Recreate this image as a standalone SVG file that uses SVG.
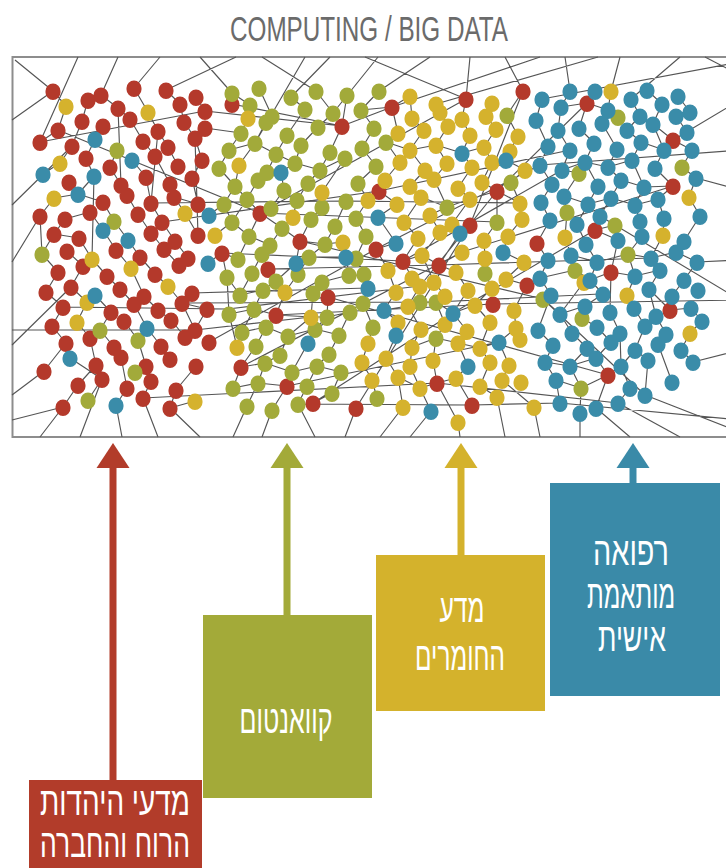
<svg xmlns="http://www.w3.org/2000/svg" width="726" height="868" viewBox="0 0 726 868">
<style>
.ttl{font-family:"Liberation Sans",Arial,sans-serif;font-size:35px;fill:#6b6b6b}
.lbl{fill:#fff;font-family:"Liberation Sans","DejaVu Sans",sans-serif;font-size:40px;text-anchor:middle}
.ln{fill:none;stroke:#555;stroke-width:1.15;stroke-linejoin:round}
.d{fill:none;stroke-width:15;stroke-linecap:round}
.r{stroke:#b4392b}.g{stroke:#a2aa3a}.y{stroke:#d5b22d}.b{stroke:#3a8ca9}
.shaft{stroke-width:7}
</style>
<defs>
<path id="tri" d="M0 0L16.5 25H-16.5Z"/>
</defs>
<rect width="726" height="868" fill="#fff"/>
<text class="ttl" x="369" y="41" text-anchor="middle" textLength="278" lengthAdjust="spacingAndGlyphs">COMPUTING / BIG DATA</text>

<g id="network">
<rect x="12.5" y="57" width="740" height="380" fill="none" stroke="#8d8d8d" stroke-width="2"/>
<path class="ln" d="M15 60 53 91M78 57 40 142M118 57 101 95M160 57 134 88M236 57 166 90M200 57 232 93M305 57 255 143M262 57 316 91M330 57 291 97M378 57 333 113M365 57 466 99M430 57 379 91M470 57 466 99M540 57 392 107M505 57 523 91M565 57 570 91M598 57 436 104M620 57 611 91M680 57 631 99M740 62 542 99M740 100 673 140M740 150 540 165M740 190 696 178M705 57 740 75M12 120 53 91M12 205 72 146M12 262 40 216M12 345 71 287M12 420 63 407M12 395 44 371M40 437 63 407M80 437 102 379M122 437 116 405M158 437 143 398M200 437 170 408M233 437 247 406M262 437 272 410M315 437 298 404M345 437 356 408M380 437 403 407M410 437 431 411M460 437 458 422M505 437 497 397M540 437 534 407M580 437 580 413M630 437 596 408M680 437 618 403M740 420 560 403M740 432 645 395M740 260 697 262M740 300 600 216M740 350 693 362
M40 142 205 111 342 126M58 130 260 213 497 222M12 330 195 330 311 317M151 203 346 201 520 203M63 307 228 309 420 286 497 191 587 103M182 303 436 302 600 294M192 293 368 288M143 398 437 383 618 403M298 404 472 405 560 403M313 403 453 313 595 230M356 408 470 225 523 91M276 315 493 304 740 300M222 253 403 261 562 170M268 269 439 265 651 258M162 222 379 191 570 150M209 342 376 249 540 165M287 386 499 342M241 367 462 252 673 186M328 297 608 375M260 213 466 99M300 241 543 299 645 395M232 104 342 126 392 107
M53 91 66 106 58 130 40 142M88 100 82 121 72 146 60 163 43 174M101 95 118 108 130 119 143 141 155 156 170 184M134 88 148 112 158 131 168 147 178 166M166 90 180 104 184 122 195 138 202 160 192 178M196 97 205 111M103 126 95 139 86 158 94 176 78 194 54 198 40 216M117 150 110 167 121 185 127 195 138 214 151 233 164 249 179 265M132 160 146 177 151 203 162 222 175 241 188 258M69 182 78 194 103 202 114 221 128 240 140 257 155 274 168 286 182 303 195 330M54 234 65 219 90 212 103 230 116 250 131 268 144 296 158 310 171 320 185 337M42 254 54 234 79 238 92 259 107 276 120 289 134 304 147 328 161 346 170 359M40 216 42 254 58 272 46 292 63 307 52 326 66 343 44 371M67 251 83 266 71 287 87 302 77 322 90 338 96 365 78 385 63 407M95 295 111 312 100 330 114 347 121 357 127 388 116 405M124 321 138 340 146 366 151 381 143 398M174 197 185 213 198 235M196 366 176 390 170 408 195 401M70 358 102 379 88 400M192 178 198 204 174 197M182 303 207 309 195 330M94 176 92 259M118 108 121 185M158 131 151 203M195 138 198 235
M232 93 250 105 248 118 241 133 229 150 219 168M259 88 272 116 266 122 255 143 239 165 235 186 224 204 209 215M291 97 305 109 287 135 276 154 267 172 258 180 247 199 232 222 215 235M316 91 333 113 318 127 301 145 295 163 281 172 284 190 271 208 260 213 249 236 238 259M347 95 342 126 330 152 320 170 308 183 297 200 293 217 282 228 270 245 262 254 252 273 240 295M345 158 322 192 322 207 311 219 300 241 296 263 276 281 263 290 254 309 242 332M346 201 335 226 325 244 309 257 298 274 285 292 276 315 266 327 256 346 241 367 233 388M343 242 346 257 349 275 322 282 313 293 311 317 288 336 280 355 265 363 258 383 247 406M222 253 227 277 229 314 237 347M328 297 327 317 315 329 308 343 292 372 287 386 272 410M350 312 339 335 329 354 317 366 307 386 298 404M341 372 332 393 313 403M205 128 241 133M208 263 222 253 238 259M219 168 235 186 247 199 260 213 282 228 300 241 325 244 343 242M229 150 255 143 276 154 295 163 320 170 345 158M224 204 232 222 249 236 270 245M227 277 240 295 263 290 285 292 298 274 309 257 346 257M229 314 254 309 276 315 311 317 327 317 350 312M242 332 266 327 288 336 315 329 339 335M241 367 265 363 292 372 317 366 341 372M233 388 258 383 287 386
M379 91 361 110 374 128 362 148 376 166 358 183 368 200 356 218 366 236 356 258 364 274 368 288 363 303 373 327 368 343 362 362 372 380 377 398M392 107 398 133 386 142 400 162 385 180 379 191 397 204 378 217 396 243 376 249 388 270 396 292 384 310 398 322 396 335 386 358 398 377 403 407M410 96 412 118 424 130 410 150 425 170 410 186 421 197 404 222 418 238 403 261 412 278 420 286 408 306 421 329 412 347 410 366 420 388 431 411M436 104 440 112 448 126 436 145 447 163 434 179 447 207 430 215 440 232 422 255 434 282 445 296 436 302 445 324 436 338 433 360 437 383 458 422M466 99 462 119 470 135 462 153 472 167 458 188 470 199 452 224 460 233 439 265 456 272 468 290 453 313 467 331 458 343 468 366 456 378 472 405M492 103 486 116 496 129 484 147 492 162 482 182 497 191 497 222 484 240 485 258 485 273 492 288 475 305 490 322 480 348 490 362 480 386 497 397M523 91 507 115 518 136 510 151 506 160 525 170 511 182 520 203 522 219 508 236 503 252 524 262 506 279 527 285 514 310 516 328 499 342 509 365 502 380 534 407M361 110 392 107 410 96M386 142 410 150 436 145 462 153 484 147M421 197 447 207 470 199 497 191 520 203M403 261 422 255 439 265 462 252M384 310 408 306 420 302 436 302 453 313 475 305 493 304M412 347 436 338 458 343 480 348 499 342M398 377 420 388 437 383 456 378
M542 99 536 120 548 146 540 165 552 184 541 202 550 220 537 243 548 260 540 278 551 295 538 330 553 345 545 362 556 380 560 403M570 91 561 107 558 130 570 150 562 170 579 173 564 196 567 212 565 237 571 255 575 270 584 282 560 314 572 333 587 348 570 366 581 388 580 413M595 91 587 103 579 128 594 143 585 162 598 186 588 204 577 224 586 244 597 262 590 280 603 294 585 306 582 318 597 327 611 342 596 358 608 375 596 408M611 91 608 110 602 123 617 149 608 167 621 180 611 198 600 216 615 225 595 230 618 240 611 272 610 312 620 333 621 366 630 388 618 403M631 99 640 116 627 130 641 142 632 160 644 187 635 205 640 221 642 236 628 254 635 276 627 295 634 308 645 326 635 350 648 360 645 395M647 90 662 104 653 124 664 150 655 168 673 186 658 199 664 218 663 235 651 258 660 270 649 289 656 316 666 334 658 344 672 382M678 96 690 112 676 116 687 132 673 140 692 150 682 167 696 178 689 197 700 216 684 241 676 252 697 262 684 280 672 296 670 310 691 308 702 321 690 333 681 350 693 362M561 107 587 103 608 110M562 170 585 162 608 167 632 160M564 196 588 204 611 198 635 205 658 199M571 255 597 262 628 254 651 258 676 252M540 278 575 270 590 280 611 272 635 276 660 270M543 299 560 314 585 306M545 362 570 366 596 358M556 380 581 388 608 375M641 142 664 150 673 140 653 124M673 186 644 187 621 180M670 310 649 289M608 375 621 366 635 350"/>
<path class="d r" d="M53 91v1.5M101 95v1.5M134 88v1.5M166 90v1.5M196 97v1.5M88 100v1.5M118 108v1.5M180 104v1.5M205 111v1.5M58 130v1.5M82 121v1.5M103 126v1.5M130 119v1.5M158 131v1.5M184 122v1.5M40 142v1.5M72 146v1.5M143 141v1.5M168 147v1.5M195 138v1.5M86 158v1.5M110 167v1.5M155 156v1.5M178 166v1.5M202 160v1.5M69 182v1.5M121 185v1.5M146 177v1.5M170 184v1.5M192 178v1.5M103 202v1.5M127 195v1.5M151 203v1.5M174 197v1.5M198 204v1.5M40 216v1.5M65 219v1.5M90 212v1.5M138 214v1.5M162 222v1.5M54 234v1.5M79 238v1.5M151 233v1.5M175 241v1.5M198 235v1.5M67 251v1.5M116 250v1.5M140 257v1.5M164 249v1.5M188 258v1.5M58 272v1.5M83 266v1.5M107 276v1.5M155 274v1.5M179 265v1.5M46 292v1.5M71 287v1.5M120 289v1.5M144 296v1.5M192 293v1.5M63 307v1.5M111 312v1.5M134 304v1.5M158 310v1.5M182 303v1.5M207 309v1.5M52 326v1.5M124 321v1.5M171 320v1.5M195 330v1.5M66 343v1.5M90 338v1.5M114 347v1.5M161 346v1.5M185 337v1.5M44 371v1.5M96 365v1.5M121 357v1.5M146 366v1.5M170 359v1.5M196 366v1.5M78 385v1.5M102 379v1.5M127 388v1.5M151 381v1.5M176 390v1.5M63 407v1.5M143 398v1.5M170 408v1.5M232 104v1.5M205 128v1.5M342 126v1.5M260 213v1.5M300 241v1.5M222 253v1.5M268 269v1.5M328 297v1.5M276 315v1.5M209 342v1.5M241 367v1.5M287 386v1.5M313 403v1.5M356 408v1.5M466 99v1.5M523 91v1.5M392 107v1.5M379 191v1.5M497 191v1.5M470 225v1.5M376 249v1.5M403 261v1.5M439 265v1.5M527 285v1.5M493 304v1.5M437 383v1.5M472 405v1.5M587 103v1.5M673 140v1.5M673 186v1.5M537 243v1.5M595 230v1.5M611 272v1.5M670 310v1.5M608 375v1.5"/>
<path class="d g" d="M232 93v1.5M259 88v1.5M291 97v1.5M316 91v1.5M347 95v1.5M250 105v1.5M272 116v1.5M305 109v1.5M333 113v1.5M241 133v1.5M266 122v1.5M287 135v1.5M318 127v1.5M229 150v1.5M255 143v1.5M276 154v1.5M301 145v1.5M330 152v1.5M219 168v1.5M267 172v1.5M295 163v1.5M320 170v1.5M345 158v1.5M235 186v1.5M258 180v1.5M284 190v1.5M308 183v1.5M224 204v1.5M247 199v1.5M271 208v1.5M297 200v1.5M322 207v1.5M346 201v1.5M232 222v1.5M282 228v1.5M311 219v1.5M335 226v1.5M249 236v1.5M270 245v1.5M325 244v1.5M238 259v1.5M262 254v1.5M309 257v1.5M227 277v1.5M252 273v1.5M276 281v1.5M298 274v1.5M322 282v1.5M349 275v1.5M240 295v1.5M263 290v1.5M313 293v1.5M229 314v1.5M254 309v1.5M327 317v1.5M350 312v1.5M242 332v1.5M266 327v1.5M288 336v1.5M315 329v1.5M339 335v1.5M256 346v1.5M280 355v1.5M329 354v1.5M265 363v1.5M292 372v1.5M317 366v1.5M341 372v1.5M233 388v1.5M258 383v1.5M307 386v1.5M332 393v1.5M247 406v1.5M272 410v1.5M298 404v1.5M117 150v1.5M114 221v1.5M42 254v1.5M100 330v1.5M138 340v1.5M88 400v1.5M135 372v1.5M379 91v1.5M507 115v1.5M511 182v1.5M447 207v1.5M497 222v1.5M485 273v1.5M363 303v1.5M420 302v1.5M436 302v1.5M373 327v1.5M436 338v1.5M377 398v1.5M361 110v1.5M374 128v1.5M362 148v1.5M386 142v1.5M376 166v1.5M358 183v1.5M356 218v1.5M366 236v1.5M356 258v1.5M364 274v1.5M618 117v1.5M682 167v1.5M579 173v1.5M567 212v1.5M615 225v1.5M628 254v1.5M575 270v1.5M543 299v1.5M582 318v1.5M581 388v1.5"/>
<path class="d y" d="M66 106v1.5M148 112v1.5M60 163v1.5M54 198v1.5M92 259v1.5M168 286v1.5M185 213v1.5M131 268v1.5M195 401v1.5M77 322v1.5M87 302v1.5M248 118v1.5M239 165v1.5M322 192v1.5M293 217v1.5M215 235v1.5M343 242v1.5M285 292v1.5M311 317v1.5M237 347v1.5M410 96v1.5M436 104v1.5M492 103v1.5M412 118v1.5M440 112v1.5M462 119v1.5M486 116v1.5M398 133v1.5M424 130v1.5M448 126v1.5M470 135v1.5M496 129v1.5M518 136v1.5M410 150v1.5M436 145v1.5M484 147v1.5M510 151v1.5M400 162v1.5M425 170v1.5M447 163v1.5M472 167v1.5M492 162v1.5M525 170v1.5M385 180v1.5M410 186v1.5M434 179v1.5M458 188v1.5M482 182v1.5M368 200v1.5M397 204v1.5M421 197v1.5M470 199v1.5M520 203v1.5M404 222v1.5M430 215v1.5M452 224v1.5M522 219v1.5M418 238v1.5M440 232v1.5M484 240v1.5M508 236v1.5M422 255v1.5M462 252v1.5M485 258v1.5M524 262v1.5M388 270v1.5M412 278v1.5M434 282v1.5M456 272v1.5M506 279v1.5M396 292v1.5M420 286v1.5M445 296v1.5M468 290v1.5M492 288v1.5M408 306v1.5M475 305v1.5M514 310v1.5M398 322v1.5M421 329v1.5M445 324v1.5M467 331v1.5M490 322v1.5M516 328v1.5M368 343v1.5M412 347v1.5M458 343v1.5M480 348v1.5M520 339v1.5M362 362v1.5M386 358v1.5M410 366v1.5M433 360v1.5M490 362v1.5M509 365v1.5M372 380v1.5M398 377v1.5M420 388v1.5M456 378v1.5M480 386v1.5M502 380v1.5M521 382v1.5M403 407v1.5M458 422v1.5M497 397v1.5M534 407v1.5M611 91v1.5M565 237v1.5M663 235v1.5M689 197v1.5M584 282v1.5M627 295v1.5M690 333v1.5"/>
<path class="d b" d="M43 174v1.5M95 139v1.5M94 176v1.5M132 160v1.5M78 194v1.5M103 230v1.5M128 240v1.5M147 328v1.5M95 295v1.5M70 358v1.5M116 405v1.5M281 172v1.5M209 215v1.5M208 263v1.5M296 263v1.5M346 257v1.5M308 343v1.5M462 153v1.5M506 160v1.5M378 217v1.5M396 243v1.5M460 233v1.5M503 252v1.5M368 288v1.5M384 310v1.5M453 313v1.5M396 335v1.5M499 342v1.5M468 366v1.5M431 411v1.5M542 99v1.5M570 91v1.5M595 91v1.5M631 99v1.5M647 90v1.5M678 96v1.5M561 107v1.5M608 110v1.5M640 116v1.5M662 104v1.5M690 112v1.5M536 120v1.5M558 130v1.5M579 128v1.5M602 123v1.5M627 130v1.5M653 124v1.5M676 116v1.5M687 132v1.5M548 146v1.5M570 150v1.5M594 143v1.5M617 149v1.5M641 142v1.5M664 150v1.5M692 150v1.5M540 165v1.5M562 170v1.5M585 162v1.5M608 167v1.5M632 160v1.5M655 168v1.5M552 184v1.5M598 186v1.5M621 180v1.5M644 187v1.5M696 178v1.5M541 202v1.5M564 196v1.5M588 204v1.5M611 198v1.5M635 205v1.5M658 199v1.5M550 220v1.5M577 224v1.5M600 216v1.5M640 221v1.5M664 218v1.5M700 216v1.5M586 244v1.5M618 240v1.5M642 236v1.5M684 241v1.5M548 260v1.5M571 255v1.5M597 262v1.5M651 258v1.5M676 252v1.5M697 262v1.5M540 278v1.5M590 280v1.5M635 276v1.5M660 270v1.5M684 280v1.5M551 295v1.5M603 294v1.5M649 289v1.5M672 296v1.5M698 290v1.5M560 314v1.5M585 306v1.5M610 312v1.5M634 308v1.5M656 316v1.5M691 308v1.5M538 330v1.5M572 333v1.5M597 327v1.5M620 333v1.5M645 326v1.5M666 334v1.5M702 321v1.5M553 345v1.5M587 348v1.5M611 342v1.5M635 350v1.5M658 344v1.5M681 350v1.5M545 362v1.5M570 366v1.5M596 358v1.5M621 366v1.5M648 360v1.5M693 362v1.5M556 380v1.5M630 388v1.5M672 382v1.5M560 403v1.5M580 413v1.5M596 408v1.5M618 403v1.5M645 395v1.5"/>
</g>

<g id="connectors">
<line class="shaft" x1="113" y1="466" x2="113" y2="782" stroke="#b23c2a"/>
<use href="#tri" x="113" y="443" fill="#b23c2a"/>
<line class="shaft" x1="287" y1="466" x2="287" y2="617" stroke="#a3aa39"/>
<use href="#tri" x="287" y="443" fill="#a3aa39"/>
<line class="shaft" x1="461" y1="466" x2="461" y2="557" stroke="#d4b22c"/>
<use href="#tri" x="461" y="443" fill="#d4b22c"/>
<line class="shaft" x1="633" y1="466" x2="633" y2="485" stroke="#3a8aa8"/>
<use href="#tri" x="633" y="443" fill="#3a8aa8"/>
</g>

<g id="node-medicine">
<rect x="550" y="483" width="170" height="213" fill="#3a8aa8"/>
<text class="lbl" x="631" y="565" textLength="76" lengthAdjust="spacingAndGlyphs">רפואה</text>
<text class="lbl" x="631" y="608" font-size="38" textLength="88" lengthAdjust="spacingAndGlyphs">מותאמת</text>
<text class="lbl" x="632" y="651" textLength="68" lengthAdjust="spacingAndGlyphs">אישית</text>
</g>
<g id="node-materials">
<rect x="376" y="555" width="169" height="156" fill="#d4b22c"/>
<text class="lbl" x="462" y="622" textLength="45" lengthAdjust="spacingAndGlyphs">מדע</text>
<text class="lbl" x="460" y="670" textLength="90" lengthAdjust="spacingAndGlyphs">החומרים</text>
</g>
<g id="node-quantum">
<rect x="203" y="615" width="169" height="183" fill="#a3aa39"/>
<text class="lbl" x="286" y="733" textLength="93" lengthAdjust="spacingAndGlyphs">קוואנטום</text>
</g>
<g id="node-humanities">
<rect x="29" y="780" width="173" height="90" fill="#b23c2a"/>
<text class="lbl" x="115" y="815" textLength="150" lengthAdjust="spacingAndGlyphs">מדעי היהדות</text>
<text class="lbl" x="115" y="857" textLength="150" lengthAdjust="spacingAndGlyphs">הרוח והחברה</text>
</g>
</svg>
